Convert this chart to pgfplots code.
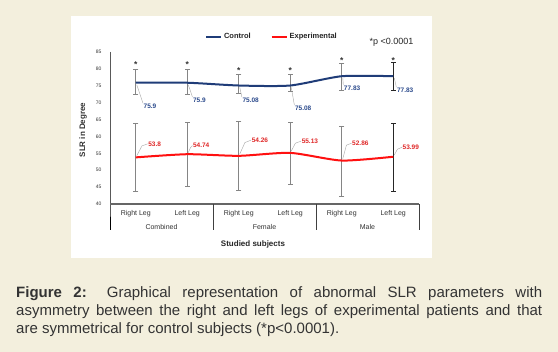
\documentclass[border=0pt]{standalone}
\usepackage{fontspec}
\setmainfont{Liberation Sans}
\usepackage{pgfplots}
\pgfplotsset{compat=1.18}
\definecolor{bgbeige}{HTML}{F3EFDD}
\definecolor{navy}{HTML}{1F3C78}
\definecolor{expred}{HTML}{FF1010}
\definecolor{lblnavy}{HTML}{2B4A8C}
\definecolor{lblred}{HTML}{E02828}
\definecolor{errgray}{HTML}{858585}
\definecolor{capgray}{HTML}{333333}

\begin{document}
\begin{tikzpicture}
\path[use as bounding box] (0pt,0pt) rectangle (558pt,352pt);
\fill[bgbeige] (0pt,0pt) rectangle (558pt,352pt);
\fill[white] (71pt,94pt) rectangle (432pt,336pt);
\begin{axis}[
 at={(110pt,148pt)}, anchor=south west,
 scale only axis, width=309pt, height=152pt,
 xmin=-0.5, xmax=5.5, ymin=40, ymax=85,
 clip=false,
 axis line style={draw=none},
 unbounded coords=jump,
 xtick={0,...,5},
 xticklabels={Right Leg,Left Leg,Right Leg,Left Leg,Right Leg,Left Leg},
 xtick style={draw=none},
 xticklabel style={font=\fontsize{7}{8}\selectfont, text=black!80, yshift=-3pt},
 ytick={40,45,...,85},
 ytick style={draw=none},
 yticklabel style={font=\fontsize{5}{6}\selectfont, text=black!80, xshift=-5pt},
 /pgf/number format/assume math mode=true,
 legend style={at={(0.524,1.099)}, anchor=center, draw=none, fill=none,
   font=\bfseries\fontsize{7.5}{9}\selectfont, text=black!85,
   /tikz/every even column/.append style={column sep=18pt}},
 legend columns=2,
 legend image code/.code={\draw[#1, line width=2pt] (0pt,0pt) -- (15pt,0pt);},
]
% error bars (gray): low and high ends, caps as marks
\addplot[forget plot, errgray, line width=1pt, mark=-, mark size=2.5pt, mark options={solid, line width=1pt}]
 coordinates {
 (0,72.3)(0,79.7) (0,nan)
 (1,72.3)(1,79.7) (1,nan)
 (2,72.58)(2,78.38) (2,nan)
 (3,73.28)(3,78.38) (3,nan)
 (4,73.73)(4,81.63) (4,nan)
 (0,43.6)(0,63.7) (0,nan)
 (1,45.14)(1,64.14) (1,nan)
 (2,43.86)(2,64.36) (2,nan)
 (3,45.63)(3,64.13) (3,nan)
 (4,42.36)(4,63.06)
 };
% error bars (black)
\addplot[forget plot, black!85, line width=1pt, mark=-, mark size=2.5pt, mark options={solid, line width=1pt}]
 coordinates {
 (5,73.53)(5,81.93) (5,nan)
 (5,43.69)(5,63.69)
 };
\addplot[navy, line width=2pt, mark=none, smooth, tension=0.4]
 coordinates {(0,75.9)(1,75.9)(2,75.08)(3,75.08)(4,77.83)(5,77.83)};
\addlegendentry{Control}
\addplot[expred, line width=2pt, mark=none, smooth, tension=0.4]
 coordinates {(0,53.8)(1,54.74)(2,54.26)(3,55.13)(4,52.86)(5,53.99)};
\addlegendentry{Experimental}

% axis lines and group separators
\draw[black, line width=0.9pt] (axis cs:-0.5,85) -- (axis cs:-0.5,40) -- ++(0pt,-26pt);
\draw[black!60, line width=1.4pt] (axis cs:-0.5,40) -- (axis cs:5.5,40);
\draw[black!75, line width=0.9pt] (axis cs:1.5,40) -- ++(0pt,-26pt);
\draw[black!75, line width=0.9pt] (axis cs:3.5,40) -- ++(0pt,-26pt);
\draw[black!75, line width=0.9pt] (axis cs:5.5,40) -- ++(0pt,-26pt);
\node[font=\fontsize{7}{8}\selectfont, text=black!80, yshift=-23pt] at (axis cs:0.5,40) {Combined};
\node[font=\fontsize{7}{8}\selectfont, text=black!80, yshift=-23pt] at (axis cs:2.5,40) {Female};
\node[font=\fontsize{7}{8}\selectfont, text=black!80, yshift=-23pt] at (axis cs:4.5,40) {Male};

% asterisks
\foreach \xx/\yy in {0/81.2,1/81.2,2/79.6,3/79.6,4/82.6,5/82.6}{
  \edef\tmp{\noexpand\node[font=\noexpand\bfseries\noexpand\fontsize{8.5}{8.5}\noexpand\selectfont, text=black!80] at (axis cs:\xx,\yy) {*};}\tmp
}

% control labels
\tikzset{cl/.style={anchor=west, text=lblnavy, font=\bfseries\fontsize{6.5}{7}\selectfont, inner sep=0.5pt},
         el/.style={anchor=west, text=lblred, font=\bfseries\fontsize{6.5}{7}\selectfont, inner sep=0.5pt},
         ld/.style={draw=black!35, line width=0.4pt}}
\node[cl] (c0) at (axis cs:0.14,69.0) {75.9};
\node[cl] (c1) at (axis cs:1.10,70.8) {75.9};
\node[cl] (c2) at (axis cs:2.06,70.8) {75.08};
\node[cl] (c3) at (axis cs:3.08,68.4) {75.08};
\node[cl] (c4) at (axis cs:4.03,74.3) {77.83};
\node[cl] (c5) at (axis cs:5.06,73.7) {77.83};
\draw[ld] (axis cs:0.02,75.3) -- (c0.north west);
\draw[ld] (axis cs:1.02,75.3) -- (c1.north west);
\draw[ld] (axis cs:2.02,74.5) -- (c2.north west);
\draw[ld] (axis cs:3.02,74.5) -- (c3.north west);
\draw[ld] (axis cs:4.02,77.3) -- (c4.north west);
\draw[ld] (axis cs:5.02,77.3) -- (c5.north west);
% experimental labels
\node[el] (e0) at (axis cs:0.23,57.8) {53.8};
\node[el] (e1) at (axis cs:1.10,57.3) {54.74};
\node[el] (e2) at (axis cs:2.24,58.9) {54.26};
\node[el] (e3) at (axis cs:3.21,58.6) {55.13};
\node[el] (e4) at (axis cs:4.19,58.0) {52.86};
\node[el] (e5) at (axis cs:5.17,56.8) {53.99};
\draw[ld] (axis cs:0.02,54.3) -- (axis cs:0.12,57.2) -- (e0.west);
\draw[ld] (axis cs:1.02,55.2) -- (axis cs:1.06,56.6) -- (e1.west);
\draw[ld] (axis cs:2.02,54.8) -- (axis cs:2.12,58.2) -- (e2.west);
\draw[ld] (axis cs:3.02,55.7) -- (axis cs:3.10,58.0) -- (e3.west);
\draw[ld] (axis cs:4.02,53.4) -- (axis cs:4.09,57.4) -- (e4.west);
\draw[ld] (axis cs:5.02,54.5) -- (axis cs:5.08,56.2) -- (e5.west);
\end{axis}

\node[rotate=90, font=\bfseries\fontsize{8}{9}\selectfont, text=black!80] at (83pt,222pt) {SLR in Degree};
\node[font=\bfseries\fontsize{8}{9}\selectfont, text=black!85] at (253pt,108pt) {Studied subjects};
\node[anchor=west, font=\fontsize{9}{10}\selectfont, text=black!85] at (366pt,310pt) {*p <0.0001};

\node[anchor=north west, inner sep=0pt, text width=526pt, align=justify,
      font=\fontsize{15}{18}\selectfont, text=capgray] at (16pt,66pt)
 {\hyphenpenalty=10000\textbf{Figure 2:} Graphical representation of abnormal SLR parameters with\linebreak asymmetry between the right and left legs of experimental patients and that\linebreak are symmetrical for control subjects (*p<0.0001).};
\end{tikzpicture}
\end{document}
